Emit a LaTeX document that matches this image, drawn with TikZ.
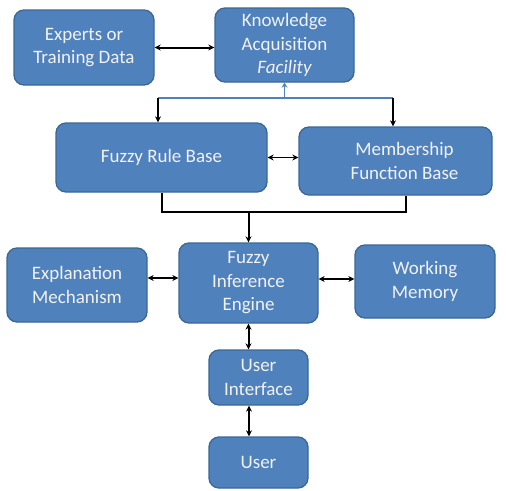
\documentclass[tikz,border=0pt]{standalone}
\usepackage{fontspec}
\setmainfont{Carlito}
\usetikzlibrary{arrows.meta}
\definecolor{boxfill}{HTML}{4F81BD}
\definecolor{boxline}{HTML}{3B6796}
\definecolor{txt}{HTML}{F2F2F2}
\tikzset{
  box/.style={draw=boxline, line width=1.3pt, fill=boxfill, rounded corners=10pt,
    text=txt, align=center, font=\fontsize{19}{23.5}\selectfont, inner sep=0pt},
  conn/.style={line width=2pt, black},
  thinconn/.style={line width=1.1pt, black},
  blueconn/.style={line width=1.5pt, boxfill},
  tip/.style={-{Stealth[length=6pt,width=6pt]}},
  tips/.style={{Stealth[length=6pt,width=6pt]}-{Stealth[length=6pt,width=6pt]}},
}
\begin{document}
\begin{tikzpicture}[x=1pt,y=-1pt]
\useasboundingbox (0,0) rectangle (506,490);
\node[box, minimum width=140pt, minimum height=75pt] (exp) at (84,47.5) {Experts or\\Training Data};
\node[box, minimum width=139pt, minimum height=74pt] (kaf) at (284.5,45) {Knowledge\\Acquisition\\\itshape Facility};
\node[box, minimum width=211pt, minimum height=69pt] (frb) at (161.5,157.5) {Fuzzy Rule Base};
\node[box, minimum width=193pt, minimum height=68pt] (mfb) at (395.5,161) {\hspace*{18pt}Membership\\\hspace*{18pt}Function Base};
\node[box, minimum width=140pt, minimum height=74pt] (expl) at (77,285) {Explanation\\Mechanism};
\node[box, minimum width=139pt, minimum height=80pt] (fie) at (248.5,283) {Fuzzy\\Inference\\Engine};
\node[box, minimum width=140pt, minimum height=73pt] (wm) at (425,281.5) {Working\\Memory};
\node[box, minimum width=99pt, minimum height=55pt] (ui) at (258.5,377.5) {User\\Interface};
\node[box, minimum width=99pt, minimum height=51pt] (user) at (258.5,462.5) {User};

% Experts <-> Knowledge
\draw[conn, tips] (exp.east) -- (exp.east -| kaf.west);
% blue feedback
\coordinate (b1) at (158,98);
\coordinate (b2) at (393,98);
\draw[blueconn] (b1) -- (b2);
\draw[blueconn, -{Stealth[length=5pt,width=6pt]}] (kaf.south |- b1) -- (kaf.south);
\draw[conn, tip] (b1) -- (b1 |- frb.north);
\draw[conn, tip] (b2) -- (b2 |- mfb.north);
% FRB <-> MFB
\draw[thinconn, tips] (frb.east) -- (frb.east -| mfb.west);
% join to FIE
\coordinate (j1) at (162,212);
\coordinate (j2) at (406,212);
\draw[conn] (j1 |- frb.south) -- (j1) -- (j2) -- (j2 |- mfb.south);
\draw[conn, tip] (fie.north |- j1) -- (fie.north);
% FIE side links
\draw[conn, tips] (expl.east |- 0,278) -- (fie.west |- 0,278);
\draw[thinconn, tips] (fie.east |- 0,279) -- (wm.west |- 0,279);
% down chain
\draw[conn, tips] (fie.south) -- (fie.south |- ui.north);
\draw[conn, tips] (ui.south -| 249,0) -- (user.north -| 249,0);
\end{tikzpicture}
\end{document}
